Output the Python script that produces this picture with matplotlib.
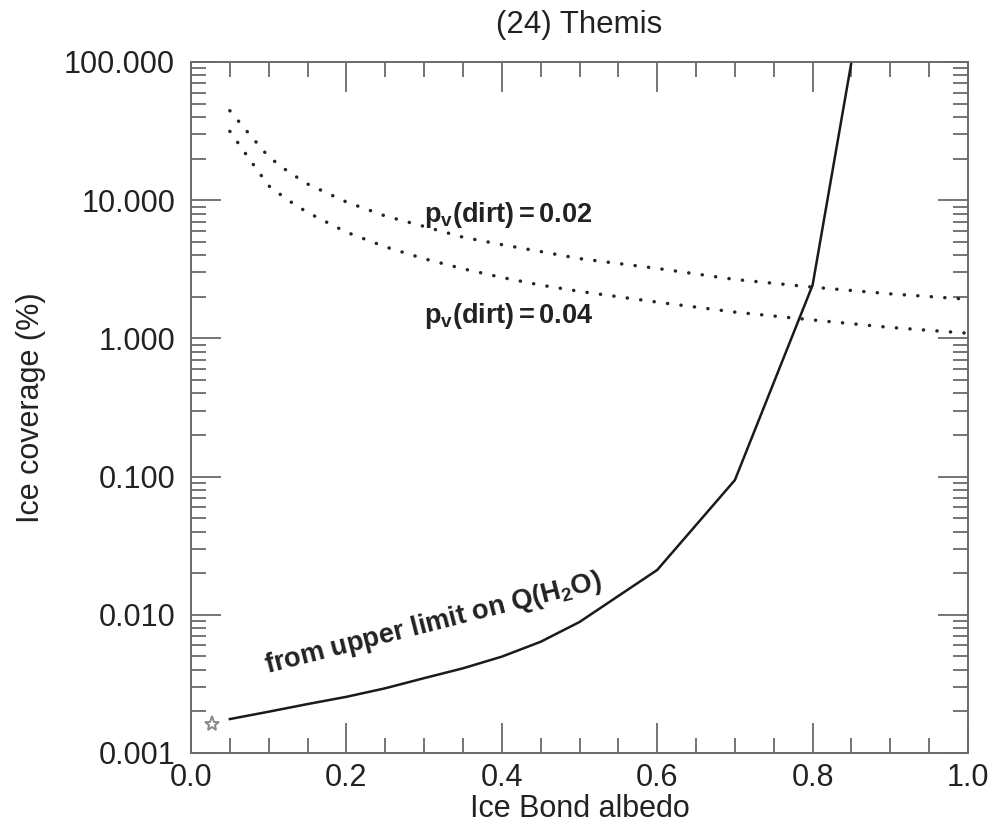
import matplotlib
matplotlib.use("Agg")
import matplotlib.pyplot as plt
from matplotlib.ticker import FixedLocator, MultipleLocator, LogLocator, NullFormatter, FormatStrFormatter

plt.rcParams['font.family'] = ['Liberation Sans', 'DejaVu Sans']
plt.rcParams['mathtext.fontset'] = 'custom'
plt.rcParams['mathtext.rm'] = 'Liberation Sans'
plt.rcParams['mathtext.bf'] = 'Liberation Sans:bold'

# ---- data ----
albedo_h2o = [0.05, 0.10, 0.15, 0.20, 0.25, 0.30, 0.35, 0.40, 0.45, 0.50, 0.60, 0.70, 0.80, 0.85]
coverage_h2o = [0.00176, 0.00199, 0.00226, 0.00255, 0.00294, 0.00348, 0.0041, 0.00498,
                0.00638, 0.00887, 0.0211, 0.0944, 2.43, 100.0]

albedo_dirt = [0.05, 0.075, 0.10, 0.125, 0.15, 0.20, 0.25, 0.30, 0.35, 0.40, 0.45, 0.50,
               0.60, 0.70, 0.80, 0.90, 1.00]
coverage_dirt_002 = [44.4, 30.1, 20.6, 16.1, 13.1, 9.71, 7.69, 6.46, 5.40, 4.77, 4.25, 3.78,
                     3.21, 2.67, 2.35, 2.10, 1.92]
coverage_dirt_004 = [31.5, 19.9, 12.7, 10.0, 8.15, 5.87, 4.60, 3.77, 3.19, 2.76, 2.43, 2.19,
                     1.83, 1.55, 1.36, 1.20, 1.09]

star_albedo = [0.027]
star_coverage = [0.00162]

x_ticks = [0.0, 0.2, 0.4, 0.6, 0.8, 1.0]
y_ticks = [0.001, 0.01, 0.1, 1.0, 10.0, 100.0]

title = "(24) Themis"
xlabel = "Ice Bond albedo"
ylabel = "Ice coverage (%)"
label_002 = r"p$_{\mathbf{v}}$(dirt)$\,$=$\,$0.02"
label_004 = r"p$_{\mathbf{v}}$(dirt)$\,$=$\,$0.04"
label_h2o = r"from upper limit on Q(H$_{\mathbf{2}}$O)"

# ---- figure ----
W, H = 993, 825
fig = plt.figure(figsize=(W / 100, H / 100), dpi=100)
ax = fig.add_axes([191 / W, 1 - 753 / H, 777 / W, 691 / H])

ax.set_yscale('log')
ax.set_xlim(0.0, 1.0)
ax.set_ylim(0.001, 100.0)

ink = '#1a1a1a'
frame = '#6a6a6a'

ax.plot(albedo_h2o, coverage_h2o, color=ink, lw=1.8, solid_joinstyle='miter')
for yv in (coverage_dirt_002, coverage_dirt_004):
    ax.plot(albedo_dirt, yv, color='#262626', lw=2.5,
            linestyle=(0, (0.05, 3.85)), dash_capstyle='round')

ax.plot(star_albedo, star_coverage, marker='*', ms=11, mfc='none', mec='#8a8a8a',
        mew=1.4, linestyle='none', clip_on=False)

# annotations
ax.text(0.300, 6.95, label_002, fontsize=19.5, fontweight='bold', color='#222222',
        ha='left', va='baseline')
ax.text(0.300, 1.29, label_004, fontsize=19.5, fontweight='bold', color='#222222',
        ha='left', va='baseline')
ax.text(0.0974, 0.00378, label_h2o, fontsize=19.5, fontweight='bold', color='#222222',
        ha='left', va='baseline', rotation=14.3, rotation_mode='anchor')

# ticks
ax.xaxis.set_major_locator(FixedLocator(x_ticks))
ax.xaxis.set_minor_locator(MultipleLocator(0.05))
ax.xaxis.set_major_formatter(FormatStrFormatter('%.1f'))
ax.yaxis.set_major_locator(FixedLocator(y_ticks))
ax.yaxis.set_minor_locator(LogLocator(base=10, subs=range(2, 10), numticks=20))
ax.yaxis.set_minor_formatter(NullFormatter())
ax.yaxis.set_major_formatter(FormatStrFormatter('%.3f'))

ax.tick_params(which='both', direction='in', top=True, right=True, color=frame, width=1.3)
ax.tick_params(which='major', length=21.6)
ax.tick_params(which='minor', length=10.8)
ax.tick_params(axis='y', which='major', labelsize=22, pad=11.5, labelcolor='#222222')
ax.tick_params(axis='x', which='major', labelsize=22, pad=7.5, labelcolor='#222222')

for s in ax.spines.values():
    s.set_color(frame)
    s.set_linewidth(1.4)

ax.set_xlabel(xlabel, fontsize=22, color='#222222')
ax.set_ylabel(ylabel, fontsize=22, color='#222222')
ax.xaxis.set_label_coords(0.5, -0.059)
ax.yaxis.set_label_coords(-0.186, 0.5)
ax.set_title(title, fontsize=22.5, color='#222222', pad=21)

fig.savefig('out.png', dpi=100)
